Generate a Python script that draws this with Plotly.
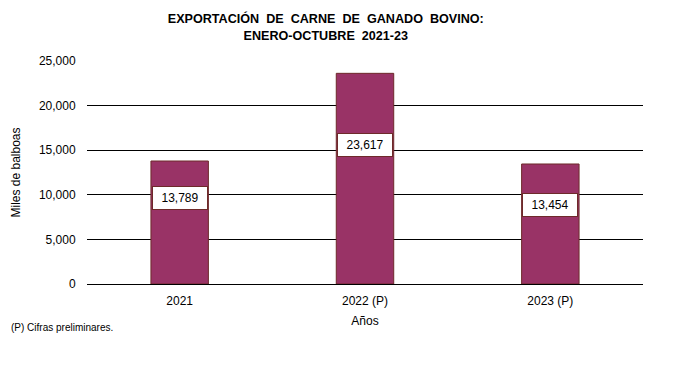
import plotly.graph_objects as go

categories = ["2021", "2022 (P)", "2023 (P)"]
values = [13789, 23617, 13454]
value_labels = ["13,789", "23,617", "13,454"]
label_pos_ratio = [0.70, 0.66, 0.66]

positions = list(range(len(categories)))

fig = go.Figure()
fig.add_trace(go.Bar(
    x=positions, y=values, width=0.31,
    marker=dict(color="#993366", line=dict(color="#6e2a2a", width=1)),
    hoverinfo="skip", showlegend=False,
))

for p, v, t, r in zip(positions, values, value_labels, label_pos_ratio):
    fig.add_annotation(
        x=p, y=v * r, text=t, showarrow=False,
        font=dict(family="Liberation Sans, Arial", size=12, color="#000000"),
        bgcolor="#ffffff", bordercolor="#6e2a2a", borderwidth=1,
        width=50, height=18, borderpad=2,
    )

fig.add_annotation(
    xref="paper", yref="paper", x=-0.14, y=-0.197, xanchor="left", yanchor="middle",
    text="(P) Cifras preliminares.", showarrow=False,
    font=dict(family="Liberation Sans, Arial", size=10, color="#000000"),
)

fig.update_layout(
    width=683, height=373,
    margin=dict(l=87, r=40, t=61, b=89, autoexpand=False),
    paper_bgcolor="#ffffff", plot_bgcolor="#ffffff",
    title=dict(
        text="<b>EXPORTACIÓN  DE  CARNE  DE  GANADO  BOVINO:<br>ENERO-OCTUBRE  2021-23</b>",
        x=0.477, xanchor="center", y=0.938, yanchor="top",
        font=dict(family="Liberation Sans, Arial", size=12.6, color="#000000"),
    ),
    font=dict(family="Liberation Sans, Arial", size=12, color="#000000"),
    xaxis=dict(
        range=[-0.5, len(categories) - 0.5],
        tickvals=positions, ticktext=categories,
        title=dict(text="Años", font=dict(size=12), standoff=9),
        showgrid=False, showline=False, zeroline=False,
        ticks="outside", ticklen=6, tickcolor="rgba(0,0,0,0)", tickfont=dict(size=12),
    ),
    yaxis=dict(
        title=dict(text="Miles de balboas", font=dict(size=12), standoff=15),
        range=[0, 25000], tickvals=[0, 5000, 10000, 15000, 20000, 25000],
        tickformat=",d", showgrid=True, gridcolor="#000000", gridwidth=1,
        zeroline=True, zerolinecolor="#000000", zerolinewidth=1,
        showline=False, ticks="outside", ticklen=8, tickcolor="rgba(0,0,0,0)",
        tickfont=dict(size=12),
    ),
)

fig.write_html("out.html", config={"displayModeBar": False},
               post_script="document.body.style.margin='0';")
